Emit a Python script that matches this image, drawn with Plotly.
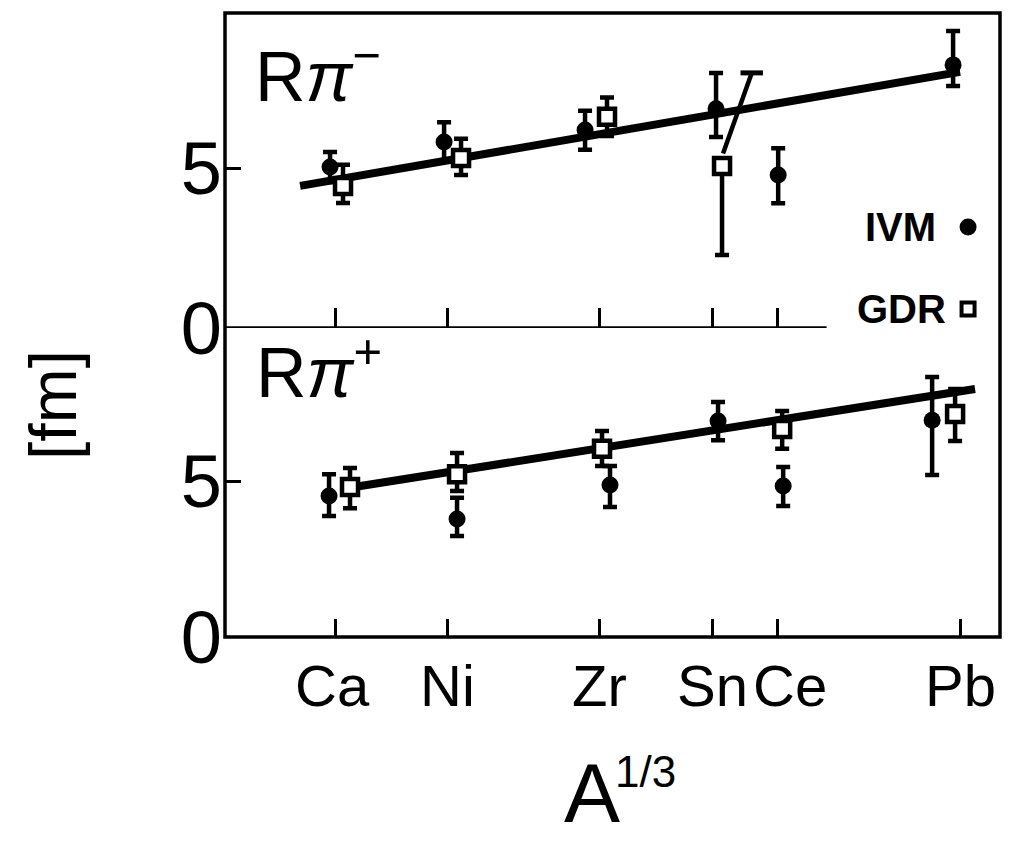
import plotly.graph_objects as go

# ---------------- data ----------------
elements = ["Ca", "Ni", "Zr", "Sn", "Ce", "Pb"]
a_third = [3.42, 3.871, 4.481, 4.932, 5.192, 5.925]   # A^(1/3)

# upper panel: R pi-
ivm_m_x = [3.400, 3.857, 4.422, 4.947, 5.196, 5.897]
ivm_m_y = [5.03, 5.81, 6.19, 6.85, 4.78, 8.22]
ivm_m_ep = [0.47, 0.62, 0.60, 1.12, 0.84, 1.06]
ivm_m_em = [0.47, 0.60, 0.62, 0.88, 0.88, 0.66]

gdr_m_x = [3.452, 3.925, 4.510, 4.971]
gdr_m_y = [4.44, 5.31, 6.60, 5.06]
gdr_m_ep = [0.66, 0.60, 0.60, 0.0]
gdr_m_em = [0.53, 0.53, 0.60, 2.78]

sn_gdr_slant_x = [4.975, 5.09]
sn_gdr_slant_y = [5.45, 7.97]

fit_m_x = [3.28, 5.925]
fit_m_y = [4.44, 8.00]

# lower panel: R pi+
ivm_p_x = [3.396, 3.909, 4.522, 4.955, 5.216, 5.813]
ivm_p_y = [4.52, 3.78, 4.87, 6.92, 4.84, 6.95]
ivm_p_ep = [0.70, 0.68, 0.61, 0.61, 0.61, 1.38]
ivm_p_em = [0.64, 0.54, 0.70, 0.61, 0.64, 1.76]

gdr_p_x = [3.480, 3.909, 4.490, 5.212, 5.905]
gdr_p_y = [4.81, 5.22, 6.03, 6.67, 7.15]
gdr_p_ep = [0.61, 0.68, 0.57, 0.57, 0.80]
gdr_p_em = [0.68, 0.54, 0.55, 0.64, 0.87]

fit_p_x = [3.49, 5.985]
fit_p_y = [4.80, 7.95]

y_ticks = [0, 5]
y_ticktext = ["0", "5"]

legend_labels = ["IVM", "GDR"]
legend_key_x = [5.957, 5.957]
legend_key_y = [3.16, 0.60]

# ---------------- style ----------------
FONT = "Liberation Sans, Arial, sans-serif"
INK = "black"
x_range = [2.979, 6.085]
zero_line_end = 5.39
label_xshift = [-3, 0, 0, 0, 13, 0]   # small typographic nudges of the element labels

fig = go.Figure()


def add_panel(xa, ya, fit_x, fit_y, ivx, ivy, ivp, ivm, gdx, gdy, gdp, gdm):
    fig.add_trace(go.Scatter(x=fit_x, y=fit_y, mode="lines",
                             line=dict(color=INK, width=8),
                             xaxis=xa, yaxis=ya, showlegend=False, hoverinfo="skip"))
    fig.add_trace(go.Scatter(x=ivx, y=ivy, mode="markers",
                             marker=dict(symbol="circle", size=17, color=INK),
                             error_y=dict(type="data", symmetric=False, array=ivp, arrayminus=ivm,
                                          thickness=4.5, width=7, color=INK),
                             xaxis=xa, yaxis=ya, showlegend=False))
    fig.add_trace(go.Scatter(x=gdx, y=gdy, mode="markers",
                             marker=dict(symbol="square", size=16, color="white",
                                         line=dict(color=INK, width=4.5)),
                             error_y=dict(type="data", symmetric=False, array=gdp, arrayminus=gdm,
                                          thickness=4.5, width=7, color=INK),
                             xaxis=xa, yaxis=ya, showlegend=False))


# upper panel (x2, y2)
add_panel("x2", "y2", fit_m_x, fit_m_y, ivm_m_x, ivm_m_y, ivm_m_ep, ivm_m_em,
          gdr_m_x, gdr_m_y, gdr_m_ep, gdr_m_em)
# slanted upper error of Sn GDR
fig.add_trace(go.Scatter(x=sn_gdr_slant_x, y=sn_gdr_slant_y, mode="lines",
                         line=dict(color=INK, width=4.5), xaxis="x2", yaxis="y2",
                         showlegend=False, hoverinfo="skip"))
fig.add_trace(go.Scatter(x=sn_gdr_slant_x[-1:], y=sn_gdr_slant_y[-1:], mode="markers",
                         marker=dict(symbol="line-ew", size=16, line=dict(color=INK, width=5)),
                         xaxis="x2", yaxis="y2", showlegend=False, hoverinfo="skip"))

# lower panel (x, y)
add_panel("x", "y", fit_p_x, fit_p_y, ivm_p_x, ivm_p_y, ivm_p_ep, ivm_p_em,
          gdr_p_x, gdr_p_y, gdr_p_ep, gdr_p_em)

# legend keys
fig.add_trace(go.Scatter(x=legend_key_x[:1], y=legend_key_y[:1], mode="markers",
                         marker=dict(symbol="circle", size=17, color=INK),
                         xaxis="x2", yaxis="y2", showlegend=False, hoverinfo="skip"))
fig.add_trace(go.Scatter(x=legend_key_x[1:], y=legend_key_y[1:], mode="markers",
                         marker=dict(symbol="square", size=13, color="white",
                                     line=dict(color=INK, width=4)),
                         xaxis="x2", yaxis="y2", showlegend=False, hoverinfo="skip"))

axis_common = dict(showgrid=False, zeroline=False, ticks="inside", tickwidth=3,
                   tickcolor=INK)

annotations = [
    dict(text="R<i>π</i><sup>−</sup>", xref="paper", yref="paper", x=0.036, y=0.905,
         xanchor="left", yanchor="middle", showarrow=False,
         font=dict(size=70, family=FONT)),
    dict(text="R<i>π</i><sup>+</sup>", xref="paper", yref="paper", x=0.038, y=0.431,
         xanchor="left", yanchor="middle", showarrow=False,
         font=dict(size=70, family=FONT)),
    dict(text="<b>" + legend_labels[0] + "</b>", xref="paper", yref="paper",
         x=(900 - 225) / 775, y=(637 - 227) / 624, xanchor="center", yanchor="middle",
         showarrow=False, font=dict(size=40, family=FONT)),
    dict(text="<b>" + legend_labels[1] + "</b>", xref="paper", yref="paper",
         x=(901 - 225) / 775, y=(637 - 309) / 624, xanchor="center", yanchor="middle",
         showarrow=False, font=dict(size=40, family=FONT)),
    dict(text="[fm]", xref="paper", yref="paper", x=(53 - 225) / 775,
         y=(637 - 405) / 624, xanchor="center", yanchor="middle", textangle=-90,
         showarrow=False, font=dict(size=66, family=FONT)),
    dict(text="A", xref="paper", yref="paper", x=(592 - 225) / 775,
         y=(637 - 793) / 624, xanchor="center", yanchor="middle",
         showarrow=False, font=dict(size=84, family=FONT)),
    dict(text="1/3", xref="paper", yref="paper", x=(645 - 225) / 775,
         y=(637 - 772) / 624, xanchor="center", yanchor="middle",
         showarrow=False, font=dict(size=44, family=FONT)),
]
# element labels under the lower axis
for name, xv, dx in zip(elements, a_third, label_xshift):
    annotations.append(dict(text=name, xref="x", yref="paper", x=xv, xshift=dx,
                            y=(637 - 685) / 624, xanchor="center", yanchor="middle",
                            showarrow=False, font=dict(size=58, family=FONT)))

fig.update_layout(
    width=1011, height=845,
    margin=dict(l=225, r=11, t=13, b=208),
    paper_bgcolor="white", plot_bgcolor="white",
    font=dict(family=FONT, color=INK),
    xaxis=dict(**axis_common, range=x_range, domain=[0, 1], anchor="y",
               tickvals=a_third, ticklen=18, showticklabels=False, showline=False),
    xaxis2=dict(**axis_common, range=x_range, domain=[0, 1], anchor="y2",
                matches="x", tickvals=a_third[:5], ticklen=20,
                showticklabels=False, showline=False),
    yaxis=dict(**axis_common, range=[0, 9.9], domain=[0, 0.495], anchor="x",
               tickvals=y_ticks, ticktext=y_ticktext, ticklen=16,
               tickfont=dict(size=74, family=FONT), showline=False,
               ticklabelstandoff=2),
    yaxis2=dict(**axis_common, range=[0, 9.84], domain=[0.495, 1], anchor="x2",
                tickvals=y_ticks, ticktext=y_ticktext, ticklen=16,
                tickfont=dict(size=74, family=FONT), showline=False,
                ticklabelstandoff=2),
    shapes=[
        dict(type="rect", xref="paper", yref="paper", x0=0, x1=1, y0=0, y1=1,
             line=dict(color=INK, width=3.5), layer="above"),
        dict(type="line", xref="x2", yref="y2", x0=x_range[0], x1=zero_line_end,
             y0=0, y1=0, line=dict(color=INK, width=3.5)),
    ],
    annotations=annotations,
)

fig.write_html("out.html")
